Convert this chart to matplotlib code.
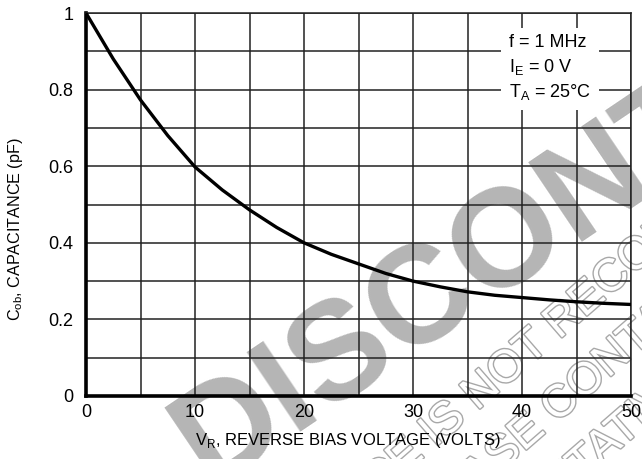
import matplotlib.pyplot as plt
import matplotlib.patheffects as pe

# curve
vr = [0, 2.5, 5, 7.5, 10, 12.5, 15, 17.5, 20, 22.5, 25, 27.5, 30, 32.5, 35, 37.5, 40, 42.5, 45, 47.5, 50]
cob = [1.0, 0.88, 0.773, 0.68, 0.598, 0.538, 0.486, 0.44, 0.40, 0.37, 0.345, 0.32, 0.30, 0.285,
       0.272, 0.263, 0.257, 0.251, 0.246, 0.242, 0.239]

xticks = [0, 10, 20, 30, 40, 50]
yticks = [0, 0.2, 0.4, 0.6, 0.8, 1.0]
ytick_labels = ['0', '0.2', '0.4', '0.6', '0.8', '1']

conditions = 'f = 1 MHz\nI$_\\mathregular{E}$ = 0 V\nT$_\\mathregular{A}$ = 25°C'
watermark = 'DISCONTINUED'
notice = ['THIS DEVICE IS NOT RECOMMENDED FOR NEW DESIGN.',
          'PLEASE CONTACT YOUR ON SEMICONDUCTOR',
          'REPRESENTATIVE FOR INFORMATION']

plt.rcParams['font.family'] = ['Liberation Sans Narrow', 'Liberation Sans', 'DejaVu Sans']
plt.rcParams['mathtext.fontset'] = 'custom'
plt.rcParams['mathtext.rm'] = 'Liberation Sans'

W, H = 642, 459
fig = plt.figure(figsize=(W / 100, H / 100), dpi=100)
ax = fig.add_axes([86 / W, 1 - 396 / H, 545 / W, 383 / H])
ax.set_facecolor('none')

# watermark behind the grid (anchor points in pixels from top-left)
wm_gray = '#b5b5b5'
fig.text(209 / W, 1 - 487 / H, watermark, fontsize=100, fontweight='bold', color=wm_gray,
         rotation=34, rotation_mode='anchor', ha='left', va='baseline', zorder=-2,
         family=['Liberation Sans', 'DejaVu Sans'])
starts = [(208, 645), (412, 549), (392, 647)]
for (px, py), line in zip(starts, notice):
    fig.text(px / W, 1 - py / H, line, fontsize=33, color='white',
             rotation=41, rotation_mode='anchor', ha='left', va='baseline', zorder=-1,
             family=['Liberation Sans', 'DejaVu Sans'],
             path_effects=[pe.withStroke(linewidth=2.0, foreground='#a8a8a8')])

ax.plot(vr, cob, color='black', lw=2.4, zorder=4)

ax.set_xlim(0, 50)
ax.set_ylim(0, 1)
ax.set_xticks(xticks)
ax.set_xticks(range(5, 50, 10), minor=True)
ax.set_yticks(yticks)
ax.set_yticklabels(ytick_labels)
ax.set_yticks([0.1, 0.3, 0.5, 0.7, 0.9], minor=True)
ax.grid(which='both', color='#222222', lw=1.1, zorder=1)
ax.set_axisbelow(True)
ax.tick_params(which='both', length=0, labelsize=13)
ax.tick_params(axis='x', pad=6)
ax.tick_params(axis='y', pad=9)

for side in ['left', 'bottom']:
    ax.spines[side].set_linewidth(2.6)
for side in ['right', 'top']:
    ax.spines[side].set_linewidth(1.1)
    ax.spines[side].set_color('#222222')

ax.text(0.776, 0.944, conditions, transform=ax.transAxes, fontsize=13, va='top', ha='left',
        linespacing=1.36, zorder=5,
        bbox=dict(boxstyle='square,pad=0.42', facecolor='white', edgecolor='none'))

fig.text(348 / W, 1 - 441 / H, 'V$_\\mathregular{R}$, REVERSE BIAS VOLTAGE (VOLTS)',
         fontsize=12, ha='center', va='center')
fig.text(16 / W, 1 - 229 / H, 'C$_\\mathregular{ob}$, CAPACITANCE (pF)',
         fontsize=11.6, ha='center', va='center', rotation=90)

fig.savefig('out.png', dpi=100)
